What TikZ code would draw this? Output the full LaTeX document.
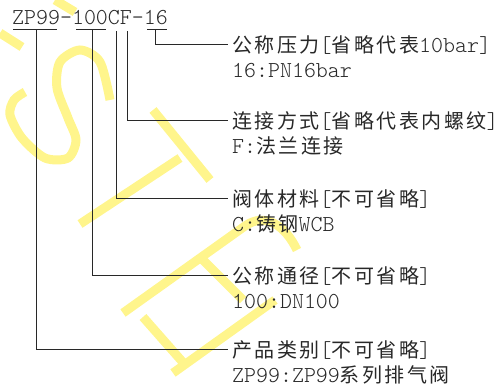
\documentclass[tikz,border=0pt]{standalone}
\usepackage{fontspec}
\newfontfamily\cjk[LetterSpace=12.5]{Noto Sans CJK SC}
\newfontfamily\lml{lmmonolt10-regular.otf}
\newcommand\zh[1]{{\fontsize{20}{24}\cjk #1}}
\definecolor{wmyellow}{RGB}{255,245,140}
\definecolor{ink}{RGB}{40,40,40}
\begin{document}
\begin{tikzpicture}[x=1pt,y=-1pt,
  wm/.style={draw=wmyellow,line width=9pt},
  conn/.style={draw=ink,line width=1pt},
  lab/.style={anchor=base west,inner sep=0pt,text=ink,font=\lml\fontsize{22.8}{26}\selectfont}]
\useasboundingbox (0,0) rectangle (504,389);
% watermark
\draw[wm] plot[smooth] coordinates {(110,100) (100,62) (80,50) (60,62) (57,88) (68,118) (76,140) (68,158) (45,158) (22,138) (10,115) (14,100) (25,92)};
\draw[wm] (0,33) -- (22,47);
\draw[wm] (55,0) -- (75,12);
\draw[wm] (80,224) -- (180,158);
\draw[wm] (153,110) -- (210,180);
\draw[wm] (123,313) -- (245,226) .. controls (265,212) and (285,225) .. (297,250);
\draw[wm] (143,317) -- (187,367);
\draw[wm] (200,257) -- (243,300);
\draw[wm] (173,373) -- (275,300);
% code
\node[lab] (code) at (12,24) {ZP99-100CF-16};
\coordinate (zpL) at (13,29); \coordinate (zpR) at (57,29); \coordinate (zpM) at (36,29);
\coordinate (hL) at (76,29); \coordinate (hR) at (106,29); \coordinate (hM) at (92,29);
\coordinate (cT) at (116,31); \coordinate (fT) at (127,31);
\coordinate (sL) at (147,29); \coordinate (sR) at (167,29); \coordinate (sM) at (155,29);
% labels
\node[lab] (p1) at (232,52) {\zh{公称压力}[\zh{省略代表}10bar]};
\node[lab] (p2) at (232,77) {16:PN16bar};
\node[lab] (f1) at (232,128) {\zh{连接方式}[\zh{省略代表内螺纹}]};
\node[lab] (f2) at (232,153) {F:\zh{法兰连接}};
\node[lab] (c1) at (232,206) {\zh{阀体材料}[\zh{不可省略}]};
\node[lab] (c2) at (232,231) {C:\zh{铸钢}WCB};
\node[lab] (d1) at (232,283) {\zh{公称通径}[\zh{不可省略}]};
\node[lab] (d2) at (232,308) {100:DN100};
\node[lab] (z1) at (232,357) {\zh{产品类别}[\zh{不可省略}]};
\node[lab] (z2) at (232,382) {ZP99:ZP99\zh{系列排气阀}};
% connectors
\draw[conn] (zpL) -- (zpR);
\draw[conn] (hL) -- (hR);
\draw[conn] (sL) -- (sR);
\draw[conn] (sM) |- ([xshift=-4pt,yshift=8pt]p1.base west);
\draw[conn] (fT) |- ([xshift=-4pt,yshift=8pt]f1.base west);
\draw[conn] (cT) |- ([xshift=-4pt,yshift=8pt]c1.base west);
\draw[conn] (hM) |- ([xshift=-4pt,yshift=8pt]d1.base west);
\draw[conn] (zpM) |- ([xshift=-4pt,yshift=8pt]z1.base west);
\end{tikzpicture}
\end{document}
